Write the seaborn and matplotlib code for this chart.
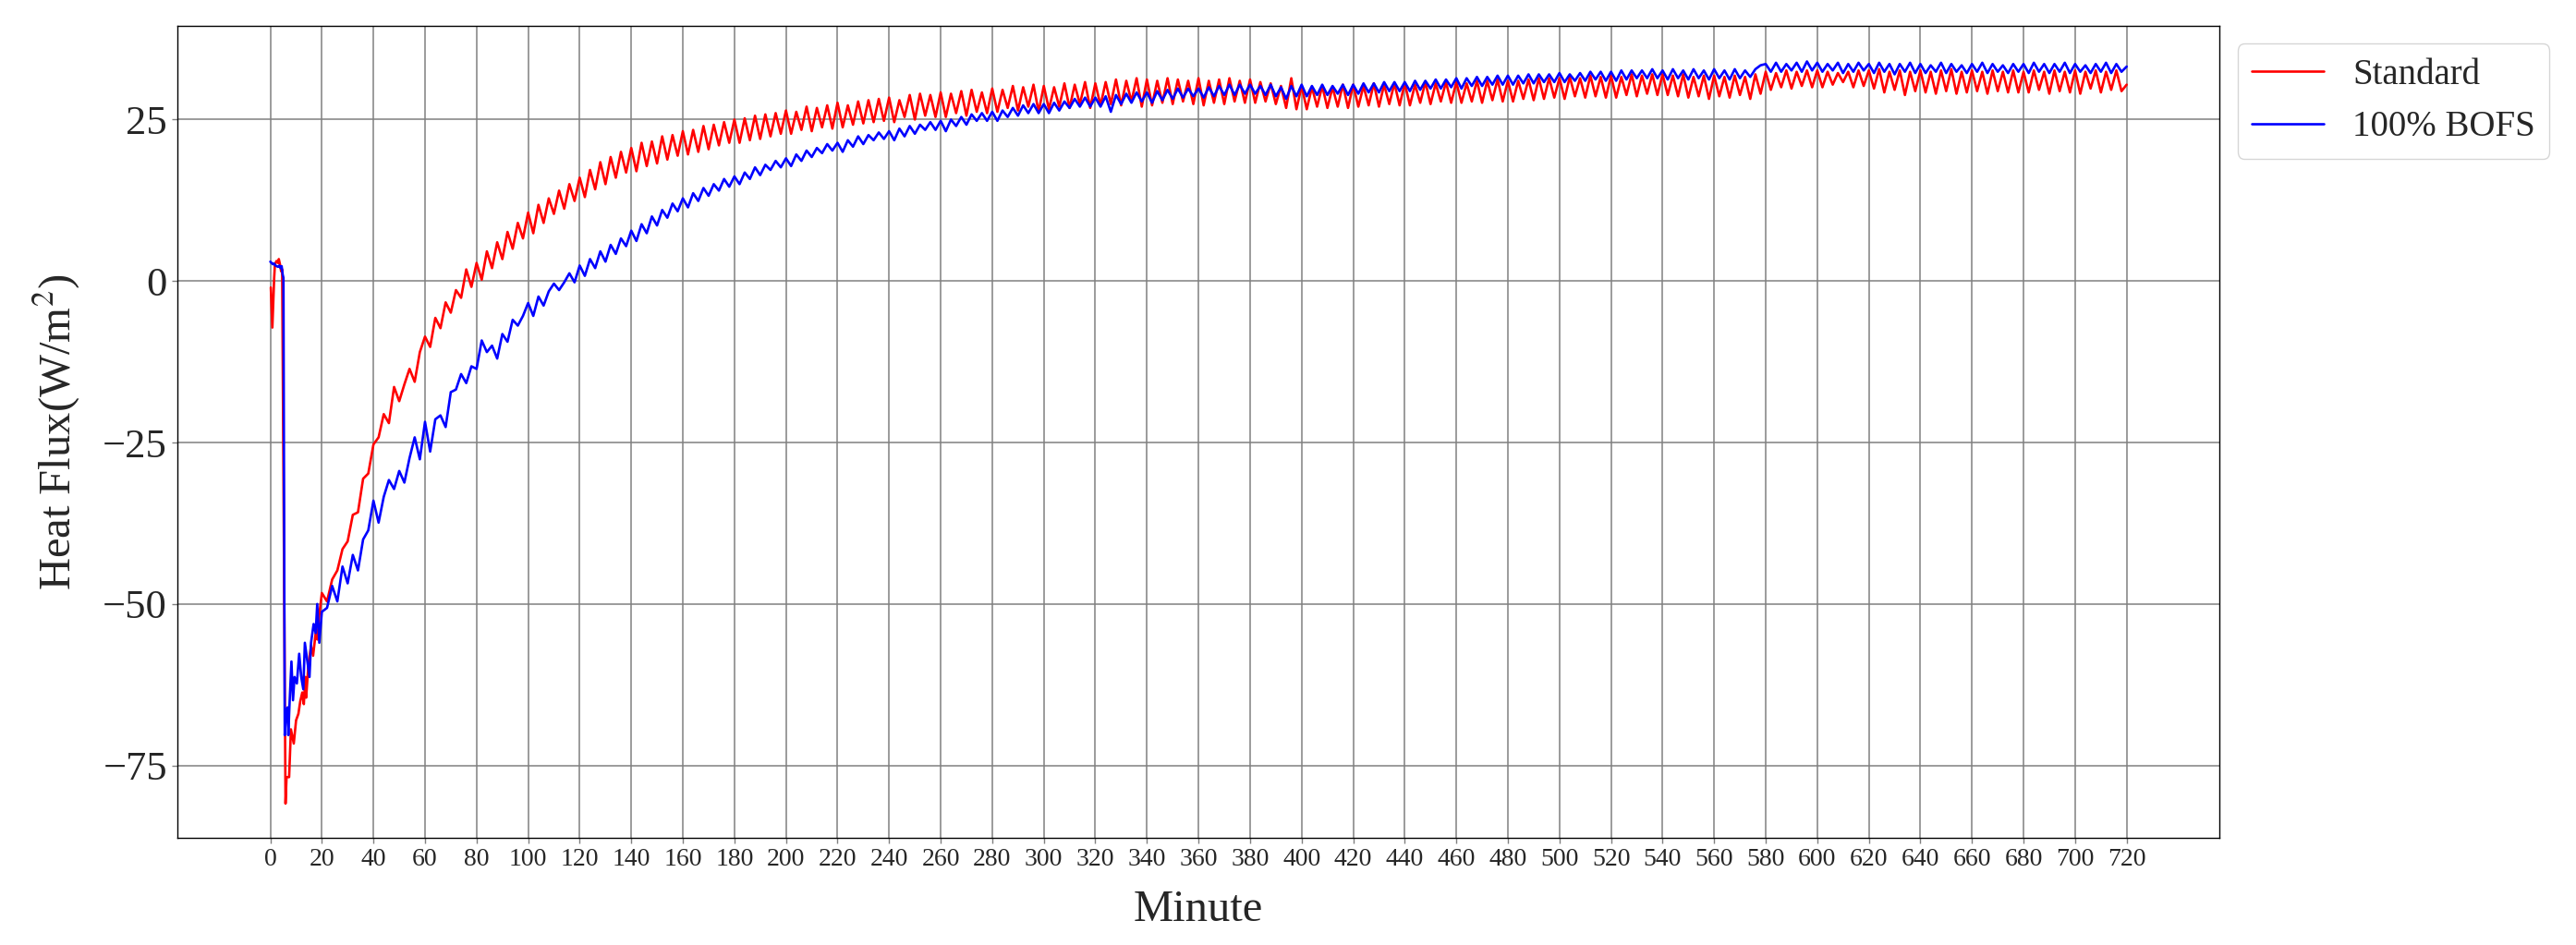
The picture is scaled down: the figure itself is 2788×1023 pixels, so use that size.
import numpy as np
import pandas as pd
import matplotlib
matplotlib.use("Agg")
import matplotlib.pyplot as plt
import seaborn as sns

# ── Data ─────────────────────────────────────────────────────────────────────
SERIES = ["Standard", "100% BOFS"]
COLORS = {"Standard": "red", "100% BOFS": "blue"}

# first minutes, irregular sampling
std_early_t = [0.2, 0.8, 1.5, 1.8, 2.4, 3.0, 3.3, 3.8, 4.2, 4.6,
               5.9, 6.3, 7.3, 8.0, 9.1, 10.0, 10.9, 11.6, 12.4, 13.0,
               13.6, 13.9, 14.8, 15.8, 16.6, 17.6, 18.3, 19.0]
std_early = [-1.0, -7.2, 0.5, 2.6, 3.1, 2.8, 3.4, 2.5, 1.5, 1.8,
             -80.9, -76.8, -76.8, -69.4, -71.6, -68.0, -67.0, -65.1, -63.7, -65.5,
             -61.3, -64.5, -59.3, -56.5, -58.0, -54.5, -55.5, -51.7]

bofs_early_t = [0.0, 0.5, 1.0, 1.5, 2.0, 2.5, 3.0, 3.5, 4.0, 4.4,
                4.8, 5.1, 5.6, 6.2, 6.7, 7.0, 7.4, 8.2, 8.8, 9.4,
                10.3, 11.2, 12.0, 12.8, 13.4, 14.2, 15.2, 15.8, 16.8, 17.6,
                18.2, 19.0]
bofs_early = [3.0, 2.8, 2.6, 2.7, 2.4, 2.3, 2.2, 2.4, 2.0, 2.3,
              1.0, 0.5, -70.3, -66.5, -66.0, -70.3, -66.0, -58.9, -64.9, -61.3,
              -62.3, -57.7, -61.3, -63.2, -56.0, -58.4, -61.3, -56.0, -53.1, -54.5,
              -50.0, -56.0]

# minute 20 onwards, every 2 minutes (one row = 20 minutes)
GRID_START, GRID_STEP = 20, 2
std_grid = [
    -48.3, -49.6, -46.2, -44.8, -41.5, -40.3, -36.2, -35.8, -30.6, -29.8,   # 20
    -25.3, -24.2, -20.6, -22.0, -16.4, -18.6, -16.0, -13.6, -15.6, -11.0,   # 40
    -8.6, -10.2, -5.7, -7.3, -3.3, -4.9, -1.4, -2.6, 1.8, -0.9,             # 60
    2.8, 0.2, 4.6, 2.0, 6.0, 3.4, 7.6, 5.0, 9.0, 6.6,                       # 80
    10.6, 7.4, 11.8, 9.0, 12.8, 10.4, 14.0, 11.2, 15.0, 12.4,               # 100
    16.0, 13.0, 17.2, 14.2, 18.4, 15.0, 19.2, 16.0, 20.0, 16.8,             # 120
    20.6, 17.0, 21.4, 17.8, 21.6, 18.2, 22.4, 18.8, 22.6, 19.4,             # 140
    23.2, 19.6, 23.4, 20.0, 24.0, 20.4, 24.2, 21.0, 24.6, 21.4,             # 160
    25.0, 21.4, 25.2, 21.8, 25.6, 22.0, 25.8, 22.4, 26.0, 22.8,             # 180
    26.4, 22.8, 26.2, 23.4, 27.0, 23.2, 26.8, 23.8, 27.2, 23.6,             # 200
    27.6, 23.8, 27.2, 24.2, 27.8, 24.4, 28.0, 24.6, 28.2, 24.8,             # 220
    28.4, 24.6, 28.0, 25.4, 28.8, 25.0, 29.0, 25.6, 28.8, 25.4,             # 240
    29.2, 25.4, 29.0, 26.0, 29.4, 25.6, 29.6, 26.2, 29.2, 26.0,             # 260
    29.8, 26.2, 29.6, 26.8, 30.2, 26.4, 30.0, 27.0, 30.4, 26.2,             # 280
    30.2, 26.6, 30.0, 27.0, 30.6, 26.8, 30.4, 27.4, 30.8, 26.8,             # 300
    30.6, 27.2, 30.8, 27.4, 31.2, 27.2, 31.0, 27.8, 31.4, 27.0,             # 320
    31.2, 27.2, 31.0, 27.6, 31.4, 27.4, 31.2, 27.8, 31.0, 27.4,             # 340
    31.4, 27.2, 31.0, 27.6, 31.2, 27.4, 31.4, 27.8, 31.0, 27.6,             # 360
    31.2, 27.6, 30.8, 27.8, 30.6, 27.4, 30.2, 26.8, 31.4, 26.6,             # 380
    30.2, 26.6, 30.0, 27.0, 30.2, 26.8, 30.0, 27.0, 30.4, 26.8,             # 400
    30.4, 27.0, 30.2, 27.2, 30.6, 27.0, 30.4, 27.4, 30.6, 27.2,             # 420
    30.6, 27.2, 30.4, 27.6, 30.8, 27.4, 30.6, 27.8, 30.8, 27.6,             # 440
    30.8, 27.6, 30.6, 27.8, 31.0, 27.6, 31.0, 28.0, 31.2, 27.8,             # 460
    31.0, 27.8, 31.0, 28.2, 31.2, 28.0, 31.4, 28.2, 31.4, 28.4,             # 480
    31.4, 28.2, 31.6, 28.6, 31.4, 28.4, 31.8, 28.6, 31.6, 28.4,             # 500
    31.8, 28.4, 31.6, 28.8, 32.0, 28.6, 31.8, 29.0, 32.0, 28.8,             # 520
    32.0, 28.8, 31.8, 28.6, 32.0, 28.4, 31.6, 28.6, 31.8, 28.2,             # 540
    31.8, 28.6, 31.6, 28.4, 31.8, 28.8, 31.6, 28.2, 32.0, 29.0,             # 560
    32.4, 29.6, 32.2, 30.0, 32.6, 29.8, 32.4, 30.2, 32.6, 30.0,             # 580
    32.6, 30.0, 32.4, 30.4, 32.2, 30.8, 32.4, 30.0, 32.6, 30.2,             # 600
    32.6, 29.8, 32.8, 29.2, 32.4, 29.6, 32.6, 28.8, 32.4, 29.4,             # 620
    32.6, 29.2, 32.4, 29.0, 32.6, 29.4, 32.8, 29.0, 32.4, 29.2,             # 640
    32.6, 29.4, 32.4, 29.0, 32.6, 29.4, 32.4, 29.2, 32.6, 29.2,             # 660
    32.4, 29.2, 32.6, 29.6, 32.4, 29.0, 32.6, 29.4, 32.4, 29.2,             # 680
    32.6, 29.0, 32.4, 29.8, 32.6, 29.2, 32.4, 29.6, 32.6, 29.4,             # 700
    30.4,                                                                   # 720
]
bofs_grid = [
    -51.2, -50.6, -47.2, -49.6, -44.2, -46.8, -42.4, -44.8, -40.0, -38.6,   # 20
    -34.0, -37.4, -33.4, -30.8, -32.2, -29.4, -31.2, -27.4, -24.2, -27.6,   # 40
    -21.8, -26.4, -21.4, -20.8, -22.6, -17.2, -16.8, -14.4, -15.8, -13.2,   # 60
    -13.6, -9.2, -11.0, -10.0, -12.0, -8.2, -9.4, -6.0, -6.9, -5.4,         # 80
    -3.4, -5.4, -2.4, -3.8, -1.6, -0.4, -1.4, -0.2, 1.2, -0.2,              # 100
    2.4, 0.8, 3.4, 2.0, 4.6, 3.0, 5.6, 4.2, 6.6, 5.4,                       # 120
    7.8, 6.2, 8.8, 7.4, 10.0, 8.6, 11.0, 9.8, 12.0, 10.8,                   # 140
    12.8, 11.4, 13.6, 12.4, 14.4, 13.2, 15.0, 14.0, 15.8, 14.6,             # 160
    16.2, 15.0, 16.8, 15.8, 17.6, 16.4, 18.0, 17.2, 18.6, 17.6,             # 180
    19.0, 17.8, 19.6, 18.6, 20.2, 19.2, 20.6, 19.8, 21.2, 20.2,             # 200
    21.4, 20.0, 21.8, 20.8, 22.4, 21.2, 22.6, 21.8, 23.0, 22.0,             # 220
    23.2, 21.8, 23.6, 22.4, 24.0, 22.8, 24.2, 23.4, 24.6, 23.4,             # 240
    24.8, 23.2, 25.0, 24.0, 25.4, 24.2, 25.8, 24.8, 26.0, 24.8,             # 260
    26.2, 24.8, 26.4, 25.4, 26.8, 25.6, 27.2, 26.0, 27.4, 26.0,             # 280
    27.4, 26.0, 27.6, 26.4, 27.8, 26.8, 28.2, 27.0, 28.4, 27.0,             # 300
    28.4, 27.0, 28.6, 26.2, 28.8, 27.4, 29.0, 27.6, 29.2, 27.8,             # 320
    29.2, 27.6, 29.4, 28.0, 29.6, 28.2, 29.8, 28.4, 29.8, 28.6,             # 340
    29.8, 28.4, 30.0, 28.6, 30.2, 28.8, 30.4, 28.8, 30.4, 29.0,             # 360
    30.4, 29.0, 30.2, 28.8, 30.4, 28.6, 30.0, 28.2, 30.2, 28.6,             # 380
    30.4, 28.6, 30.2, 28.8, 30.4, 28.8, 30.2, 29.0, 30.4, 28.8,             # 400
    30.4, 29.0, 30.6, 29.2, 30.6, 29.2, 30.8, 29.4, 30.8, 29.4,             # 420
    30.8, 29.4, 31.0, 29.6, 31.0, 29.8, 31.2, 29.8, 31.2, 30.0,             # 440
    31.4, 29.8, 31.4, 30.2, 31.6, 30.2, 31.6, 30.4, 31.8, 30.4,             # 460
    31.8, 30.4, 31.8, 30.6, 32.0, 30.6, 32.0, 30.8, 32.0, 30.8,             # 480
    32.2, 30.8, 32.0, 31.0, 32.2, 31.0, 32.4, 31.2, 32.4, 31.0,             # 500
    32.4, 31.0, 32.6, 31.2, 32.6, 31.4, 32.6, 31.4, 32.8, 31.4,             # 520
    32.6, 31.2, 32.8, 31.4, 32.6, 31.2, 32.8, 31.4, 32.6, 31.2,             # 540
    32.8, 31.4, 32.6, 31.2, 32.8, 31.4, 32.6, 31.6, 32.8, 33.4,             # 560
    33.6, 32.4, 33.8, 32.4, 33.6, 32.6, 33.8, 32.4, 34.0, 32.6,             # 580
    33.8, 32.4, 33.6, 32.6, 33.8, 32.2, 33.6, 32.4, 33.8, 32.6,             # 600
    33.6, 32.2, 33.8, 32.4, 33.6, 32.0, 33.6, 32.4, 33.8, 32.2,             # 620
    33.6, 32.2, 33.4, 32.4, 33.8, 32.2, 33.6, 32.4, 33.4, 32.2,             # 640
    33.6, 32.4, 33.8, 32.2, 33.6, 32.4, 33.4, 32.2, 33.6, 32.4,             # 660
    33.6, 32.2, 33.8, 32.4, 33.6, 32.2, 33.6, 32.4, 33.8, 32.2,             # 680
    33.6, 32.4, 33.4, 32.2, 33.6, 32.4, 33.8, 32.2, 33.6, 32.4,             # 700
    33.2,                                                                   # 720
]

X_TICKS = list(range(0, 721, 20))
Y_TICKS = [-75, -50, -25, 0, 25]


def series_frame(name, early_t, early_v, grid_v):
    grid_t = GRID_START + GRID_STEP * np.arange(len(grid_v))
    return pd.DataFrame({
        "Minute": np.concatenate([early_t, grid_t]),
        "Heat Flux": np.concatenate([early_v, grid_v]),
        "Mix": name,
    })


df = pd.concat([
    series_frame("Standard", std_early_t, std_early, std_grid),
    series_frame("100% BOFS", bofs_early_t, bofs_early, bofs_grid),
], ignore_index=True)

# ── Style ────────────────────────────────────────────────────────────────────
sns.set_style("whitegrid", {"grid.color": "#808080", "axes.edgecolor": "black"})
plt.rcParams["font.family"] = ["Liberation Serif", "DejaVu Serif"]
plt.rcParams["mathtext.fontset"] = "stix"

fig, ax = plt.subplots(figsize=(27.88, 10.23), dpi=100)
fig.subplots_adjust(left=0.0689, right=0.8616, bottom=0.1134, top=0.9726)

sns.lineplot(data=df, x="Minute", y="Heat Flux", hue="Mix",
             hue_order=SERIES, palette=COLORS, estimator=None,
             errorbar=None, linewidth=1.9, ax=ax)

ax.set_xlim(-36, 756)
ax.set_ylim(-86.2, 39.5)
ax.set_xticks(X_TICKS)
ax.set_yticks(Y_TICKS)
ax.grid(True, color="#808080", linewidth=1.1)
for sp in ax.spines.values():
    sp.set_color("black")
    sp.set_linewidth(1.0)
ax.tick_params(axis="both", which="major", direction="out", length=4.5,
               width=1.0, color="#808080", left=True, bottom=True)
ax.tick_params(axis="x", labelsize=20)
ax.tick_params(axis="y", labelsize=32)

ax.set_xlabel("Minute", fontsize=35, labelpad=14)
ax.set_ylabel("Heat Flux(W/m$^2$)", fontsize=35, labelpad=16)

handles, labels = ax.get_legend_handles_labels()
ax.legend(handles, labels, loc="upper left", bbox_to_anchor=(1.0, 1.0),
          fontsize=28, frameon=True)

fig.savefig("out.png", dpi=100)
